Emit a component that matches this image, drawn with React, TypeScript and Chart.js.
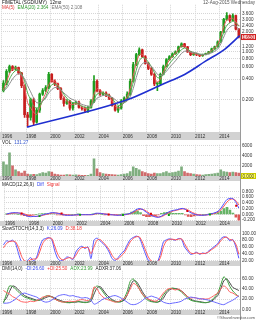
import React, { useEffect, useRef } from 'react';
import { Chart, registerables } from 'chart.js';

Chart.register(...registerables);

const FONT = '"Liberation Sans", Arial, sans-serif';
const START_YEAR = 1996;
const X_MIN = 1995.92;
const X_MAX = 2015.72;
const YEAR_TICKS = [1996, 1998, 2000, 2002, 2004, 2006, 2008, 2010, 2012, 2014];

// Quarterly candles (1996Q1 .. 2015Q3)
const OPEN_FIRST = 0.27;
const CLOSE = [
  0.35, 0.52, 0.61, 0.56,
  0.59, 0.49, 0.32, 0.12,
  0.11, 0.20, 0.093, 0.14,
  0.24, 0.27, 0.30, 0.47,
  0.37, 0.34, 0.29, 0.21,
  0.175, 0.19, 0.15, 0.175,
  0.18, 0.153, 0.148, 0.139,
  0.153, 0.19, 0.37, 0.27,
  0.24, 0.25, 0.23, 0.21,
  0.164, 0.14, 0.15, 0.19,
  0.21, 0.24, 0.37, 0.65,
  0.91, 1.07, 0.85, 0.68,
  0.57, 0.47, 0.34, 0.34,
  0.47, 0.61, 0.77, 0.85,
  0.94, 1.0, 1.19, 1.31,
  1.19, 1.0, 0.91, 0.94,
  0.91, 0.88, 0.91, 0.94,
  1.0, 1.11, 1.19, 1.4,
  1.95, 2.99, 3.41, 2.9,
  3.4, 2.15, 1.65,
];
const HIGH = [
  0.38, 0.55, 0.64, 0.63,
  0.62, 0.60, 0.50, 0.33,
  0.13, 0.21, 0.21, 0.15,
  0.25, 0.29, 0.32, 0.50,
  0.48, 0.39, 0.35, 0.30,
  0.22, 0.20, 0.195, 0.18,
  0.19, 0.19, 0.16, 0.155,
  0.16, 0.20, 0.45, 0.39,
  0.28, 0.26, 0.26, 0.24,
  0.215, 0.17, 0.16, 0.20,
  0.22, 0.26, 0.40, 0.70,
  0.95, 1.15, 1.10, 0.88,
  0.70, 0.60, 0.49, 0.36,
  0.49, 0.64, 0.80, 0.88,
  0.97, 1.04, 1.22, 1.36,
  1.33, 1.21, 1.02, 0.97,
  0.96, 0.92, 0.93, 0.96,
  1.02, 1.14, 1.22, 1.45,
  2.0, 3.1, 3.75, 3.5,
  3.6, 3.45, 2.2,
];
const LOW = [
  0.26, 0.33, 0.49, 0.53,
  0.54, 0.47, 0.30, 0.11,
  0.08, 0.10, 0.085, 0.09,
  0.13, 0.23, 0.26, 0.29,
  0.36, 0.32, 0.28, 0.20,
  0.16, 0.17, 0.14, 0.14,
  0.17, 0.15, 0.14, 0.13,
  0.13, 0.15, 0.18, 0.26,
  0.23, 0.23, 0.22, 0.20,
  0.16, 0.135, 0.13, 0.145,
  0.18, 0.20, 0.23, 0.36,
  0.63, 0.88, 0.83, 0.66,
  0.55, 0.45, 0.32, 0.27,
  0.33, 0.46, 0.60, 0.75,
  0.83, 0.92, 0.98, 1.17,
  1.16, 0.98, 0.88, 0.89,
  0.88, 0.85, 0.86, 0.90,
  0.93, 0.99, 1.09, 1.17,
  1.38, 1.90, 2.9, 2.7,
  2.85, 2.1, 1.6,
];
const MA_FAST = [
  0.28, 0.36, 0.48, 0.56,
  0.58, 0.56, 0.45, 0.30,
  0.18, 0.15, 0.13, 0.12,
  0.15, 0.20, 0.25, 0.33,
  0.38, 0.37, 0.33, 0.27,
  0.21, 0.19, 0.17, 0.17,
  0.175, 0.17, 0.155, 0.147,
  0.147, 0.16, 0.24, 0.29,
  0.27, 0.25, 0.24, 0.22,
  0.19, 0.16, 0.15, 0.16,
  0.19, 0.22, 0.29, 0.45,
  0.68, 0.90, 0.92, 0.78,
  0.64, 0.53, 0.42, 0.36,
  0.40, 0.50, 0.64, 0.76,
  0.86, 0.95, 1.08, 1.22,
  1.22, 1.10, 0.98, 0.94,
  0.92, 0.90, 0.90, 0.92,
  0.97, 1.05, 1.14, 1.28,
  1.65, 2.35, 2.95, 3.05,
  3.1, 2.75, 2.4,
];
const EMA20 = [
  0.27, 0.31, 0.40, 0.48,
  0.53, 0.54, 0.48, 0.37,
  0.25, 0.20, 0.16, 0.15,
  0.16, 0.19, 0.22, 0.28,
  0.33, 0.34, 0.32, 0.28,
  0.24, 0.21, 0.19, 0.18,
  0.18, 0.17, 0.16, 0.155,
  0.15, 0.155, 0.20, 0.24,
  0.25, 0.25, 0.24, 0.23,
  0.21, 0.18, 0.165, 0.165,
  0.18, 0.20, 0.25, 0.36,
  0.54, 0.74, 0.83, 0.80,
  0.71, 0.61, 0.50, 0.42,
  0.42, 0.47, 0.57, 0.67,
  0.76, 0.85, 0.96, 1.08,
  1.14, 1.10, 1.02, 0.98,
  0.95, 0.92, 0.91, 0.92,
  0.95, 1.01, 1.08, 1.18,
  1.45, 1.95, 2.45, 2.65,
  2.8, 2.65, 2.364,
];
const EMA50 = [
  0.27, 0.29, 0.34, 0.40,
  0.45, 0.48, 0.46, 0.40,
  0.32, 0.26, 0.21, 0.18,
  0.18, 0.19, 0.21, 0.25,
  0.28, 0.30, 0.30, 0.28,
  0.25, 0.23, 0.21, 0.20,
  0.19, 0.18, 0.17, 0.165,
  0.16, 0.16, 0.18, 0.21,
  0.22, 0.23, 0.23, 0.225,
  0.215, 0.20, 0.185, 0.18,
  0.18, 0.19, 0.22, 0.29,
  0.42, 0.57, 0.67, 0.70,
  0.67, 0.61, 0.54, 0.47,
  0.45, 0.47, 0.52, 0.59,
  0.66, 0.74, 0.84, 0.95,
  1.02, 1.03, 1.0, 0.98,
  0.96, 0.93, 0.92, 0.92,
  0.93, 0.97, 1.02, 1.10,
  1.30, 1.65, 2.05, 2.30,
  2.45, 2.4, 2.108,
];
const TREND_YEARS = [1998.08, 2006.42, 2009.17, 2011.17, 2012.83, 2014.5, 2015.7];
const TREND_VALUES = [0.079, 0.20, 0.328, 0.471, 0.724, 1.11, 1.73];
const PRICE_TICKS = [0.2, 0.4, 0.6, 0.8, 1.0, 1.2, 2.0, 2.4, 3.0, 3.6];
const LAST_PRICE = 1.65;

const VOLUME = [
  2800, 2200, 4600, 2000,
  1200, 900, 600, 1000,
  400, 300, 350, 300,
  500, 700, 600, 900,
  800, 400, 300, 200,
  200, 300, 250, 200,
  250, 200, 150, 150,
  150, 400, 3400, 1400,
  700, 500, 400, 350,
  300, 250, 200, 300,
  400, 500, 900, 1800,
  1500, 1200, 900, 700,
  500, 400, 600, 500,
  500, 700, 900, 600,
  700, 800, 1000, 1800,
  900, 600, 500, 400,
  300, 250, 200, 300,
  350, 400, 500, 600,
  1200, 900, 800, 700,
  800, 700, 600,
];
const VOL_TICKS = [2000, 4000, 6000];

const MACD_DIFF = [
  0.01, 0.04, 0.06, 0.06,
  0.05, 0.03, -0.01, -0.06,
  -0.08, -0.07, -0.07, -0.05,
  -0.02, 0.01, 0.03, 0.06,
  0.06, 0.04, 0.02, -0.01,
  -0.03, -0.03, -0.03, -0.02,
  -0.01, -0.01, -0.01, -0.01,
  -0.01, 0.0, 0.04, 0.04,
  0.03, 0.01, 0.0, -0.01,
  -0.02, -0.03, -0.03, -0.02,
  0.0, 0.02, 0.06, 0.13,
  0.19, 0.20, 0.15, 0.07,
  0.0, -0.05, -0.09, -0.10,
  -0.06, 0.0, 0.06, 0.11,
  0.14, 0.16, 0.19, 0.21,
  0.18, 0.11, 0.05, 0.01,
  -0.02, -0.03, -0.03, -0.02,
  0.0, 0.03, 0.06, 0.11,
  0.22, 0.38, 0.52, 0.56,
  0.55, 0.42, 0.22,
];
const MACD_SIGNAL = [
  0.0, 0.02, 0.04, 0.05,
  0.05, 0.04, 0.02, -0.02,
  -0.05, -0.06, -0.07, -0.06,
  -0.04, -0.01, 0.01, 0.04,
  0.05, 0.05, 0.03, 0.01,
  -0.01, -0.02, -0.03, -0.02,
  -0.02, -0.01, -0.01, -0.01,
  -0.01, -0.01, 0.02, 0.03,
  0.03, 0.02, 0.01, 0.0,
  -0.01, -0.02, -0.03, -0.02,
  -0.01, 0.01, 0.04, 0.09,
  0.15, 0.18, 0.17, 0.11,
  0.04, -0.02, -0.06, -0.09,
  -0.08, -0.03, 0.03, 0.08,
  0.12, 0.14, 0.17, 0.19,
  0.19, 0.15, 0.09, 0.04,
  0.0, -0.02, -0.03, -0.02,
  -0.01, 0.01, 0.04, 0.08,
  0.16, 0.29, 0.43, 0.52,
  0.54, 0.48, 0.33,
];
const MACD_HIST = [
  0.01, 0.03, 0.03, 0.02,
  0.0, -0.02, -0.04, -0.06,
  -0.04, -0.02, 0.0, 0.02,
  0.03, 0.03, 0.03, 0.03,
  0.02, -0.02, -0.02, -0.03,
  -0.03, -0.02, 0.0, 0.0,
  0.01, 0.0, 0.0, 0.0,
  0.0, 0.02, 0.04, 0.02,
  0.0, -0.02, -0.02, -0.02,
  -0.02, -0.02, 0.0, 0.01,
  0.02, 0.03, 0.08, 0.12,
  0.12, 0.06, -0.04, -0.08,
  -0.08, -0.06, -0.05, -0.02,
  0.04, 0.06, 0.07, 0.06,
  0.04, 0.04, 0.04, 0.04,
  -0.02, -0.07, -0.08, -0.05,
  -0.03, -0.02, 0.0, 0.0,
  0.02, 0.04, 0.04, 0.06,
  0.12, 0.2, 0.25, 0.15,
  0.05, -0.1, -0.2,
];
const BUY_YEARS = [1998.9, 2002.3, 2005.9, 2009.75, 2013.2];
const BUY_VALUES = [-0.06, -0.01, -0.02, -0.02, 0.0];
const SELL_YEARS = [1997.4, 2000.75, 2004.7, 2008.25, 2011.3, 2015.4];
const SELL_VALUES = [0.03, 0.03, 0.0, 0.02, 0.12, 0.3];
const MACD_TICKS = [-0.2, 0, 0.2, 0.4, 0.6, 0.8];

const STOCH_K = [
  66, 78, 76, 80,
  70, 40, 15, 12,
  20, 28, 18, 30,
  60, 81, 85, 88,
  82, 48, 25, 18,
  22, 30, 28, 22,
  45, 57, 62, 55,
  60, 25, 80, 86,
  78, 70, 60, 45,
  25, 20, 28, 40,
  48, 66, 82, 88,
  92, 88, 65, 40,
  20, 15, 12, 15,
  40, 75, 81, 84,
  82, 80, 85, 83,
  60, 48, 38, 40,
  44, 38, 42, 40,
  48, 55, 62, 70,
  84, 90, 88, 78,
  82, 60, 26.09,
];
const STOCH_D = [
  57, 70, 76, 77,
  75, 58, 32, 18,
  16, 22, 24, 25,
  45, 70, 82, 86,
  85, 62, 38, 24,
  21, 26, 28, 25,
  35, 50, 58, 58,
  58, 40, 60, 80,
  82, 74, 64, 52,
  35, 24, 24, 33,
  42, 58, 75, 85,
  90, 90, 75, 52,
  30, 18, 14, 14,
  28, 60, 78, 82,
  83, 81, 83, 84,
  70, 54, 42, 40,
  42, 40, 40, 41,
  45, 52, 58, 66,
  78, 87, 89, 82,
  80, 68, 38.18,
];
const STOCH_TICKS = [20, 40, 60, 80, 100];

const PLUS_DI = [
  37, 33, 30, 25,
  22, 18, 15, 14,
  14, 16, 15, 17,
  20, 24, 25, 27,
  24, 20, 17, 15,
  14, 15, 16, 15,
  16, 18, 19, 18,
  17, 22, 44, 40,
  30, 24, 20, 18,
  16, 14, 15, 18,
  22, 28, 40, 51,
  48, 40, 30, 24,
  20, 18, 16, 17,
  24, 32, 38, 41,
  40, 38, 40, 36,
  30, 25, 22, 23,
  22, 20, 21, 20,
  21, 24, 28, 32,
  40, 46, 42, 34,
  32, 28, 25.5,
];
const MINUS_DI = [
  12, 12, 13, 16,
  20, 26, 30, 32,
  30, 28, 26, 24,
  20, 16, 14, 15,
  18, 22, 26, 28,
  29, 28, 26, 27,
  25, 24, 22, 23,
  22, 18, 10, 12,
  16, 20, 22, 24,
  26, 27, 25, 22,
  18, 14, 10, 9,
  10, 13, 17, 22,
  24, 26, 24, 22,
  18, 14, 12, 11,
  12, 13, 14, 16,
  20, 22, 24, 23,
  22, 21, 20, 19,
  18, 16, 14, 12,
  10, 9, 12, 15,
  18, 22, 26.6,
];
const ADX = [
  12, 30, 46, 45,
  40, 34, 28, 24,
  22, 20, 18, 17,
  18, 22, 26, 27,
  24, 20, 17, 15,
  14, 13, 13, 14,
  15, 15, 14, 13,
  14, 20, 40, 46,
  42, 34, 26, 20,
  17, 15, 14, 15,
  22, 35, 55, 60,
  52, 40, 30, 22,
  17, 15, 14, 14,
  18, 28, 36, 40,
  42, 40, 38, 34,
  28, 22, 18, 16,
  15, 14, 13, 13,
  14, 18, 24, 32,
  48, 64, 58, 45,
  36, 30, 23.99,
];
const ADXR = [
  15, 22, 35, 46,
  44, 38, 32, 27,
  24, 22, 20, 18,
  18, 20, 23, 25,
  25, 22, 19, 17,
  15, 14, 13, 14,
  14, 15, 14, 14,
  14, 16, 30, 42,
  45, 38, 30, 24,
  19, 16, 15, 15,
  18, 28, 45, 56,
  55, 46, 35, 26,
  20, 16, 15, 14,
  16, 22, 32, 38,
  41, 41, 39, 36,
  31, 25, 20, 17,
  16, 15, 14, 13,
  14, 16, 21, 27,
  40, 56, 60, 52,
  43, 40, 37.06,
];
const DMI_TICKS = [0, 20, 40, 60];

const UP = '#1f9e1f';
const DOWN = '#c81e1e';

const qx = (i: number) => START_YEAR + i * 0.25 + 0.125;
const series = (arr: number[]) => arr.map((v, i) => ({ x: qx(i), y: v }));

type Run = { text: string; color: string };
type TextLine = { x: number; y: number; runs: Run[]; align?: 'left' | 'right'; size?: number };

function textPlugin(lines: TextLine[]) {
  return {
    id: 'texts',
    afterDraw(chart: any) {
      const ctx = chart.ctx;
      for (const line of lines) {
        ctx.save();
        ctx.font = `${line.size ?? 4.6}px ${FONT}`;
        ctx.textBaseline = 'top';
        ctx.textAlign = line.align ?? 'left';
        let x = line.x;
        for (const r of line.runs) {
          ctx.fillStyle = r.color;
          ctx.fillText(r.text, x, line.y);
          x += ctx.measureText(r.text).width + 3;
        }
        ctx.restore();
      }
    },
  };
}

function framePlugin(tag?: { value: number; text: string; bg: string; fg: string; border: string }) {
  return {
    id: 'frame',
    beforeDraw(chart: any) {
      const ctx = chart.ctx;
      const xs = chart.scales.x;
      ctx.save();
      ctx.fillStyle = '#d2d2d2';
      ctx.fillRect(0, xs.top, chart.chartArea.right, xs.bottom - xs.top);
      ctx.restore();
    },
    afterDraw(chart: any) {
      const ctx = chart.ctx;
      const a = chart.chartArea;
      ctx.save();
      ctx.strokeStyle = '#9a9a9a';
      ctx.lineWidth = 1;
      ctx.beginPath();
      ctx.moveTo(a.right + 0.5, 0);
      ctx.lineTo(a.right + 0.5, chart.height);
      ctx.stroke();
      if (tag) {
        const y = chart.scales.y.getPixelForValue(tag.value);
        ctx.fillStyle = tag.bg;
        ctx.fillRect(a.right + 1, y - 3, 15, 6);
        ctx.strokeStyle = tag.border;
        ctx.strokeRect(a.right + 1.5, y - 2.5, 14, 5);
        ctx.fillStyle = tag.fg;
        ctx.font = `4.6px ${FONT}`;
        ctx.textBaseline = 'middle';
        ctx.textAlign = 'left';
        ctx.fillText(tag.text, a.right + 2.5, y + 0.3);
      }
      ctx.restore();
    },
  };
}

function xAxis(stripH: number, pad: number) {
  return {
    type: 'linear',
    min: X_MIN,
    max: X_MAX,
    offset: false,
    grid: { color: '#d6d6d6', lineWidth: 1, drawTicks: false, offset: false },
    border: { display: false, dash: [1, 1] },
    ticks: {
      font: { size: 4.6, family: FONT },
      color: '#333',
      align: 'start',
      padding: pad,
      maxRotation: 0,
      autoSkip: false,
      callback: (v: number) => String(v),
    },
    afterBuildTicks: (a: any) => {
      a.ticks = YEAR_TICKS.map((v) => ({ value: v }));
    },
    afterFit: (a: any) => {
      a.height = stripH;
    },
  };
}

function yAxis(extra: any, tickValues: number[], fmt: (v: number) => string) {
  return {
    position: 'right',
    grid: { color: '#d6d6d6', lineWidth: 1, drawTicks: false },
    border: { display: false, dash: [1, 1] },
    ticks: {
      font: { size: 4.6, family: FONT },
      color: '#333',
      padding: 2,
      autoSkip: false,
      callback: (v: number) => fmt(v),
    },
    afterBuildTicks: (a: any) => {
      a.ticks = tickValues.map((v) => ({ value: v }));
    },
    afterFit: (a: any) => {
      a.width = 16;
    },
    ...extra,
  };
}

function baseOptions(padTop: number, padBottom: number, stripH: number, stripPad: number, y: any) {
  return {
    responsive: false,
    maintainAspectRatio: false,
    animation: false,
    devicePixelRatio: 1,
    events: [],
    layout: { padding: { top: padTop, bottom: padBottom, left: 1, right: 0 } },
    plugins: { legend: { display: false }, tooltip: { enabled: false }, title: { display: false } },
    scales: { x: xAxis(stripH, stripPad), y },
  };
}

function lineDs(arr: { x: number; y: number }[], color: string, width = 1) {
  return {
    type: 'line',
    data: arr,
    borderColor: color,
    borderWidth: width,
    pointRadius: 0,
    tension: 0.25,
    fill: false,
  };
}

export default function App() {
  const priceRef = useRef<HTMLCanvasElement>(null);
  const volRef = useRef<HTMLCanvasElement>(null);
  const macdRef = useRef<HTMLCanvasElement>(null);
  const stochRef = useRef<HTMLCanvasElement>(null);
  const dmiRef = useRef<HTMLCanvasElement>(null);

  useEffect(() => {
    const opens = CLOSE.map((_, i) => (i === 0 ? OPEN_FIRST : CLOSE[i - 1]));
    const candleColors = CLOSE.map((c, i) => (c >= opens[i] ? UP : DOWN));
    const charts: Chart[] = [];

    charts.push(
      new Chart(priceRef.current as HTMLCanvasElement, {
        type: 'bar',
        data: {
          datasets: [
            {
              type: 'bar',
              data: CLOSE.map((_, i) => ({ x: qx(i), y: [LOW[i], HIGH[i]] })),
              backgroundColor: candleColors,
              barThickness: 1,
              grouped: false,
              order: 3,
            },
            {
              type: 'bar',
              data: CLOSE.map((c, i) => ({ x: qx(i), y: [opens[i], c] })),
              backgroundColor: candleColors,
              barThickness: 2,
              minBarLength: 1,
              grouped: false,
              order: 2,
            },
            { ...lineDs(series(EMA50), '#8c8c8c'), order: 1 },
            { ...lineDs(series(EMA20), '#4fae4f'), order: 1 },
            { ...lineDs(series(MA_FAST), '#ea5a5a'), order: 1 },
            {
              type: 'line',
              data: TREND_YEARS.map((x, i) => ({ x, y: TREND_VALUES[i] })),
              borderColor: '#1f2fd0',
              borderWidth: 1.6,
              pointRadius: 0,
              cubicInterpolationMode: 'monotone',
              order: 0,
            },
          ] as any,
        },
        options: baseOptions(2, 0, 8, 1.6,
          yAxis({ type: 'logarithmic', min: 0.067, max: 4.9 }, PRICE_TICKS, (v) => v.toFixed(3))) as any,
        plugins: [
          framePlugin({ value: LAST_PRICE, text: LAST_PRICE.toFixed(3), bg: '#f6c4c4', fg: '#c00000', border: '#d02020' }),
          textPlugin([
            { x: 2, y: 0.5, runs: [{ text: 'FIMETAL (SGD/UMY)', color: '#111' }, { text: '12mo', color: '#111' }] },
            {
              x: 2,
              y: 5.5,
              runs: [
                { text: 'MA(5)', color: '#dd3333' },
                { text: 'EMA(20) 2.364', color: '#2f9a2f' },
                { text: 'EMA(50) 2.108', color: '#777' },
              ],
            },
            { x: 255, y: 0.5, align: 'right', runs: [{ text: '12-Aug-2015 Wednesday', color: '#555' }] },
          ]),
        ] as any,
      })
    );

    charts.push(
      new Chart(volRef.current as HTMLCanvasElement, {
        type: 'bar',
        data: {
          datasets: [
            {
              type: 'bar',
              data: series(VOLUME),
              backgroundColor: candleColors.map((c) => (c === UP ? '#7fae7f' : '#cf6a6a')),
              barThickness: 2,
              grouped: false,
            },
          ] as any,
        },
        options: baseOptions(1, 0, 5, 0.3,
          yAxis({ min: 0, max: 6200 }, VOL_TICKS, (v) => String(v))) as any,
        plugins: [
          framePlugin({ value: 0, text: '0.000', bg: '#ffff55', fg: '#333', border: '#c8c800' }),
          textPlugin([{ x: 2, y: 0.5, runs: [{ text: 'VOL', color: '#222' }, { text: '131.27', color: '#3355cc' }] }]),
        ] as any,
      })
    );

    charts.push(
      new Chart(macdRef.current as HTMLCanvasElement, {
        type: 'bar',
        data: {
          datasets: [
            {
              type: 'bar',
              data: series(MACD_HIST),
              backgroundColor: MACD_HIST.map((v) => (v >= 0 ? '#66b366' : '#dd5555')),
              barThickness: 2,
              grouped: false,
              order: 3,
            },
            { ...lineDs(series(MACD_SIGNAL), '#ff5050'), order: 2 },
            { ...lineDs(series(MACD_DIFF), '#4a4aff'), order: 1 },
            {
              type: 'line',
              data: BUY_YEARS.map((x, i) => ({ x, y: BUY_VALUES[i] })),
              showLine: false,
              pointStyle: 'rect',
              pointRadius: 1.4,
              pointBackgroundColor: '#10a010',
              pointBorderWidth: 0,
              order: 0,
            },
            {
              type: 'line',
              data: SELL_YEARS.map((x, i) => ({ x, y: SELL_VALUES[i] })),
              showLine: false,
              pointStyle: 'rect',
              pointRadius: 1.4,
              pointBackgroundColor: '#e00000',
              pointBorderWidth: 0,
              order: 0,
            },
          ] as any,
        },
        options: baseOptions(0, 0, 5, 0.3,
          yAxis({ min: -0.23, max: 1.0 }, MACD_TICKS, (v) => v.toFixed(3))) as any,
        plugins: [
          framePlugin(),
          textPlugin([
            {
              x: 2,
              y: 1,
              runs: [
                { text: 'MACD(12,26,9)', color: '#222' },
                { text: 'Diff', color: '#3344ee' },
                { text: 'Signal', color: '#ee3333' },
              ],
            },
          ]),
        ] as any,
      })
    );

    charts.push(
      new Chart(stochRef.current as HTMLCanvasElement, {
        type: 'line',
        data: {
          datasets: [
            { ...lineDs(series(STOCH_D), '#ff5555') },
            { ...lineDs(series(STOCH_K), '#5555ff') },
          ] as any,
        },
        options: baseOptions(0, 0, 5, 0.3,
          yAxis({ min: 18, max: 108 }, STOCH_TICKS, (v) => v.toFixed(2))) as any,
        plugins: [
          framePlugin(),
          textPlugin([
            {
              x: 2,
              y: 0.5,
              runs: [
                { text: 'SlowSTOCH(14,3,3)', color: '#222' },
                { text: 'K:26.09', color: '#3344ee' },
                { text: 'D:38.18', color: '#ee3333' },
              ],
            },
          ]),
        ] as any,
      })
    );

    charts.push(
      new Chart(dmiRef.current as HTMLCanvasElement, {
        type: 'line',
        data: {
          datasets: [
            { ...lineDs(series(MINUS_DI), '#6666ff') },
            { ...lineDs(series(PLUS_DI), '#ff6060') },
            { ...lineDs(series(ADX), '#3fa03f') },
            { ...lineDs(series(ADXR), '#444444') },
          ] as any,
        },
        options: baseOptions(0, 5, 5, 0.3,
          yAxis({ min: -1.5, max: 76 }, DMI_TICKS, (v) => v.toFixed(2))) as any,
        plugins: [
          framePlugin(),
          textPlugin([
            {
              x: 2,
              y: 0.5,
              runs: [
                { text: 'DMI(14,0)', color: '#222' },
                { text: '-DI:26.60', color: '#3344ee' },
                { text: '+DI:25.50', color: '#ee3333' },
                { text: 'ADX:23.99', color: '#2f9a2f' },
                { text: 'ADXR:37.06', color: '#222' },
              ],
            },
            { x: 255, y: 49.3, align: 'right', size: 4.2, runs: [{ text: '©ShareInvestor.com', color: '#555' }] },
          ]),
        ] as any,
      })
    );

    return () => {
      charts.forEach((c) => c.destroy());
    };
  }, []);

  const cv = (top: number, height: number): React.CSSProperties => ({
    position: 'absolute',
    left: 0,
    top,
    width: 256,
    height,
    display: 'block',
  });

  return (
    <div style={{ position: 'fixed', left: 0, top: 0, width: 256, height: 320, background: '#fff', overflow: 'hidden' }}>
      <canvas ref={priceRef} width={256} height={140} style={cv(0, 140)} />
      <canvas ref={volRef} width={256} height={41} style={cv(140, 41)} />
      <canvas ref={macdRef} width={256} height={45} style={cv(181, 45)} />
      <canvas ref={stochRef} width={256} height={40} style={cv(226, 40)} />
      <canvas ref={dmiRef} width={256} height={54} style={cv(266, 54)} />
    </div>
  );
}
